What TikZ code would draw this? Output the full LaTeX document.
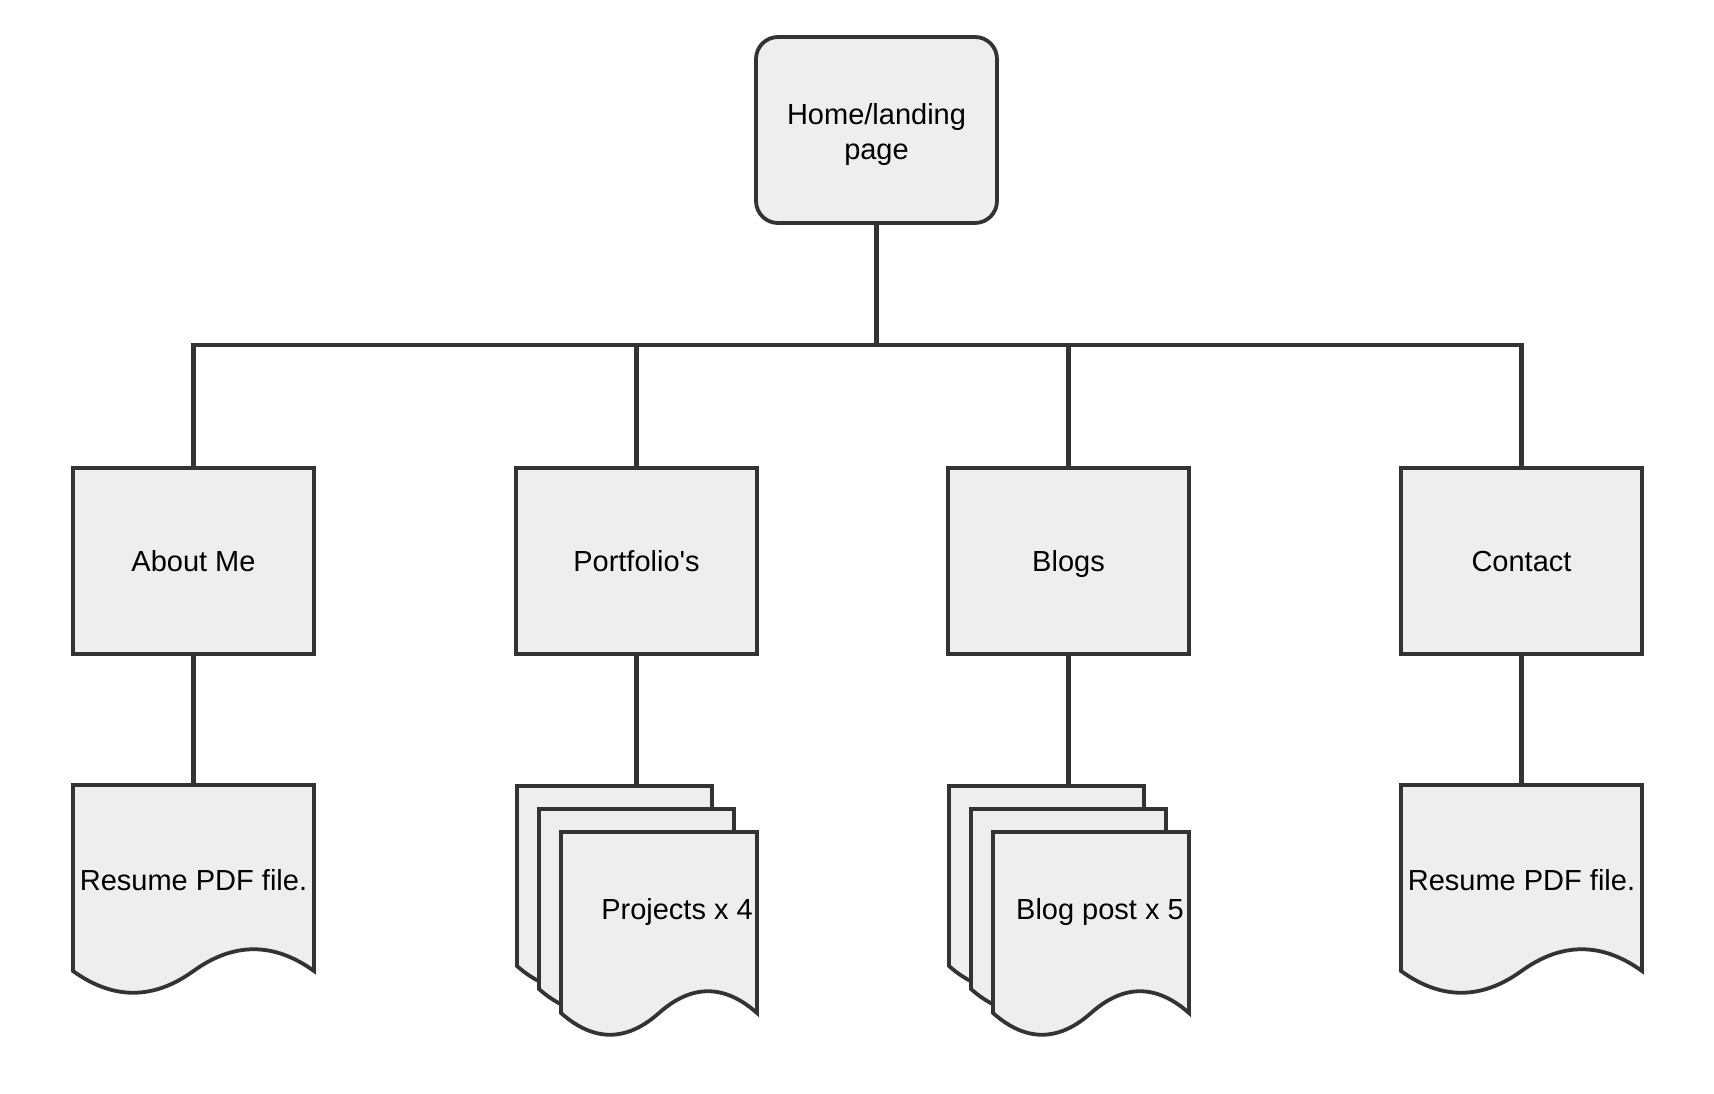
\documentclass[tikz,border=0pt]{standalone}
\usepackage{fontspec}
\setmainfont{Liberation Sans}
\definecolor{edge}{HTML}{333333}
\definecolor{paper}{HTML}{EEEEEE}
\begin{document}
\begin{tikzpicture}[x=1pt,y=-1pt,
  every node/.style={font=\fontsize{29}{35}\selectfont, text=black},
  oneline/.style={text height=21pt, text depth=0pt, inner sep=0pt},
  conn/.style={draw=edge, line width=4.2pt},
  pagebox/.style={draw=edge, fill=paper, line width=3.8pt, minimum width=241pt, minimum height=186pt, inner sep=0pt},
  homebox/.style={pagebox, rounded corners=22pt},
  sheet/.style={draw=edge, fill=paper, line width=3.8pt, line join=miter},
  pics/docsheet/.style args={#1/#2}{code={
    \path[sheet] (0,0) -- (#1,0) -- (#1,#2)
      .. controls ({0.8333*#1},{#2-29}) and ({0.6667*#1},{#2-29}) .. ({0.5*#1},#2)
      .. controls ({0.3333*#1},{#2+29}) and ({0.1667*#1},{#2+29}) .. (0,#2) -- cycle;
  }}]
\useasboundingbox (0,0) rectangle (1714,1094);

% top level and sections
\node[homebox] (home) at (876.5,130) {};
\node[align=center] (hometext) at (876.5,134.5) {Home/landing\\page};
\node[pagebox, oneline] (about) at (193.5,561) {About Me};
\node[pagebox, oneline] (port) at (636.5,561) {Portfolio\textquotesingle s};
\node[pagebox, oneline] (blogs) at (1068.5,561) {Blogs};
\node[pagebox, oneline] (contact) at (1521.5,561) {Contact};

% documents below each section
\pic at (73,785) {docsheet=241/186};
\node[oneline] (resumeA) at (193.5,880) {Resume PDF file.};
\coordinate (docA) at (193.5,785);

\pic at (517,786) {docsheet=195/180};
\pic at (539,809) {docsheet=195/180};
\pic at (561,832) {docsheet=196/181};
\node[oneline] (projects) at (677,909) {Projects x 4};
\coordinate (docB) at (636.5,786);

\pic at (949,786) {docsheet=195/180};
\pic at (971,809) {docsheet=195/180};
\pic at (993,832) {docsheet=196/181};
\node[oneline] (posts) at (1100,909) {Blog post x 5};
\coordinate (docC) at (1068.5,786);

\pic at (1401,785) {docsheet=241/186};
\node[oneline] (resumeB) at (1521.5,880) {Resume PDF file.};
\coordinate (docD) at (1521.5,785);

% tree connectors
\coordinate (bus) at (876.5,345);
\draw[conn] (home.south) -- (bus);
\draw[conn] (about.north) -- (about.north |- bus) -- (contact.north |- bus) -- (contact.north);
\draw[conn] (port.north) -- (port.north |- bus);
\draw[conn] (blogs.north) -- (blogs.north |- bus);

\draw[conn] (about.south) -- (docA);
\draw[conn] (port.south) -- (docB);
\draw[conn] (blogs.south) -- (docC);
\draw[conn] (contact.south) -- (docD);
\end{tikzpicture}
\end{document}
